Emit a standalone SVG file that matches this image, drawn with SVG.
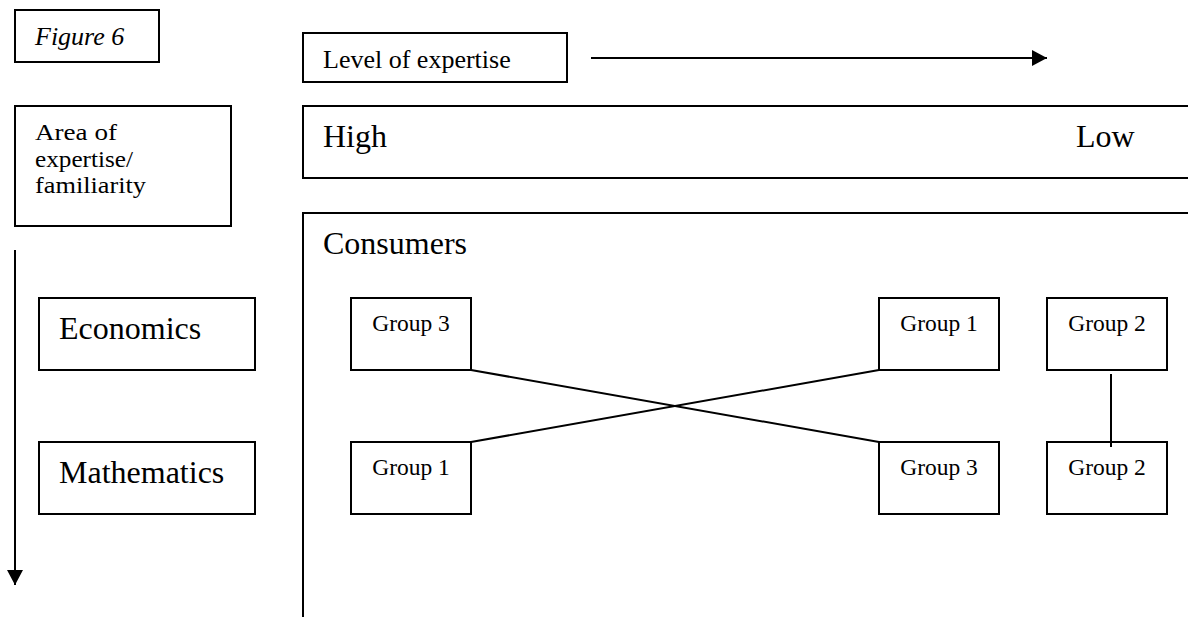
<svg xmlns="http://www.w3.org/2000/svg" width="1188" height="617" viewBox="0 0 1188 617">
<style>
  .box { fill: #fff; stroke: #000; stroke-width: 2; }
  .t { font-family: "Liberation Serif", "Times New Roman", serif; fill: #000; }
  .big { font-size: 32px; }
  .mid { font-size: 26px; }
  .area { font-size: 23px; }
  .grp { font-size: 23.5px; text-anchor: middle; }
  .ln { stroke: #000; stroke-width: 2; fill: none; }
</style>
<defs>
  <marker id="ah" markerUnits="userSpaceOnUse" markerWidth="16" markerHeight="16" refX="15" refY="8" orient="auto" viewBox="0 0 16 16">
    <path d="M0,0 L15,8 L0,16 z" fill="#000"/>
  </marker>
</defs>
<rect width="1188" height="617" fill="#fff"/>

<g id="figure-label">
  <rect class="box" x="15" y="10" width="144" height="52"/>
  <text class="t mid" x="35" y="45" font-style="italic">Figure 6</text>
</g>

<g id="area-label">
  <rect class="box" x="15" y="106" width="216" height="120"/>
  <text class="t area" x="35" y="140" textLength="82" lengthAdjust="spacingAndGlyphs">Area of</text>
  <text class="t area" x="35" y="166.5" textLength="98" lengthAdjust="spacingAndGlyphs">expertise/</text>
  <text class="t area" x="35" y="192.5" textLength="111" lengthAdjust="spacingAndGlyphs">familiarity</text>
</g>

<g id="level-label">
  <rect class="box" x="303" y="33" width="264" height="49"/>
  <text class="t mid" x="323" y="68">Level of expertise</text>
</g>

<g id="high-low">
  <rect class="box" x="303" y="106" width="1000" height="72"/>
  <text class="t big" x="323" y="147">High</text>
  <text class="t big" x="1076" y="147">Low</text>
</g>

<g id="consumers">
  <rect class="box" x="303" y="213" width="1000" height="500"/>
  <text class="t big" x="323" y="254">Consumers</text>
</g>

<g id="economics">
  <rect class="box" x="39" y="298" width="216" height="72"/>
  <text class="t big" x="59" y="338.5">Economics</text>
</g>

<g id="mathematics">
  <rect class="box" x="39" y="442" width="216" height="72"/>
  <text class="t big" x="59" y="483">Mathematics</text>
</g>

<g id="econ-group3">
  <rect class="box" x="351" y="298" width="120" height="72"/>
  <text class="t grp" x="411" y="331">Group 3</text>
</g>
<g id="econ-group1">
  <rect class="box" x="879" y="298" width="120" height="72"/>
  <text class="t grp" x="939" y="331">Group 1</text>
</g>
<g id="econ-group2">
  <rect class="box" x="1047" y="298" width="120" height="72"/>
  <text class="t grp" x="1107" y="331">Group 2</text>
</g>
<g id="math-group1">
  <rect class="box" x="351" y="442" width="120" height="72"/>
  <text class="t grp" x="411" y="475">Group 1</text>
</g>
<g id="math-group3">
  <rect class="box" x="879" y="442" width="120" height="72"/>
  <text class="t grp" x="939" y="475">Group 3</text>
</g>
<g id="math-group2">
  <rect class="box" x="1047" y="442" width="120" height="72"/>
  <text class="t grp" x="1107" y="475">Group 2</text>
</g>

<g id="connectors">
  <line class="ln" x1="591" y1="58" x2="1047" y2="58" marker-end="url(#ah)"/>
  <line class="ln" x1="15" y1="250" x2="15" y2="585" marker-end="url(#ah)"/>
  <line class="ln" x1="471" y1="370" x2="879" y2="442"/>
  <line class="ln" x1="471" y1="442" x2="879" y2="370"/>
  <line class="ln" x1="1111" y1="374" x2="1111" y2="447"/>
</g>
</svg>
